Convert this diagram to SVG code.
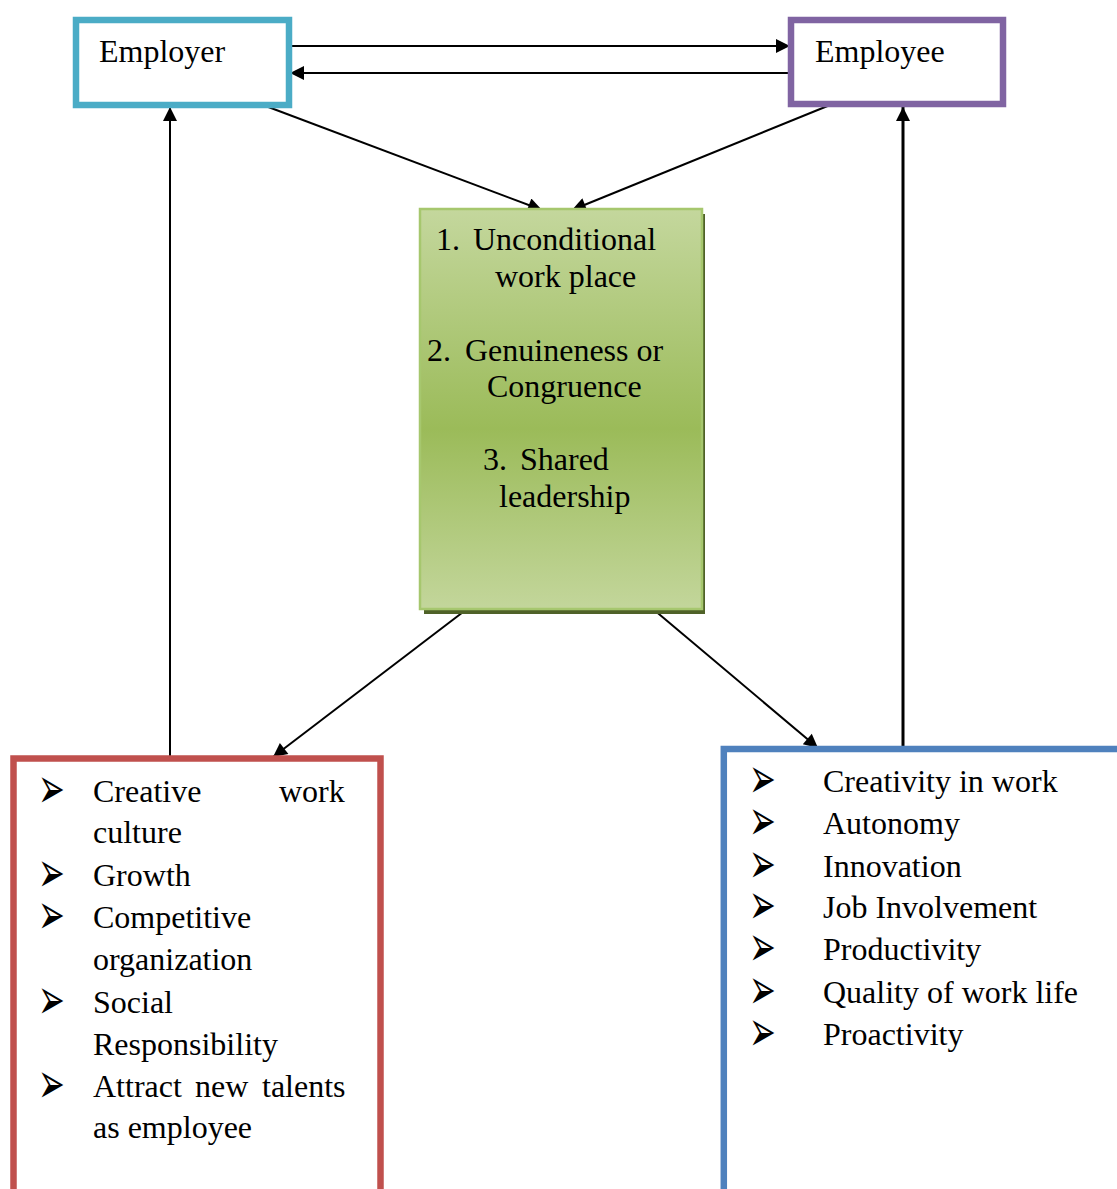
<svg xmlns="http://www.w3.org/2000/svg" width="1117" height="1189" viewBox="0 0 1117 1189">
  <style>
    .t { font-family: "Liberation Serif", "Times New Roman", serif; font-size: 32px; fill: #000; }
    .b { font-family: "DejaVu Sans", sans-serif; font-size: 32px; fill: #000; }
    .c { stroke: #000; stroke-width: 2; fill: none; marker-end: url(#ah); }
    .box { fill: #fff; stroke-width: 6.5; }
  </style>
  <defs>
    <marker id="ah" viewBox="0 0 10 10" refX="10" refY="5" markerUnits="userSpaceOnUse" markerWidth="17" markerHeight="14" orient="auto">
      <path d="M0,0 L10,5 L0,10 z" fill="#000"/>
    </marker>
    <linearGradient id="gg" x1="0" y1="0" x2="0" y2="1">
      <stop offset="0" stop-color="#C4D79D"/>
      <stop offset="0.55" stop-color="#9BBB59"/>
      <stop offset="1" stop-color="#C3D69B"/>
    </linearGradient>
    <text id="bul" class="b" transform="scale(1,1.8)">➢</text>
  </defs>
  <rect width="1117" height="1189" fill="#fff"/>

  <g id="connectors">
    <line class="c" x1="289" y1="46" x2="790" y2="46"/>
    <line class="c" x1="790" y1="73" x2="290" y2="73"/>
    <line class="c" x1="263" y1="105" x2="542" y2="210"/>
    <line class="c" x1="830" y1="105" x2="572" y2="210"/>
    <line class="c" x1="467" y1="609" x2="273" y2="757"/>
    <line class="c" x1="653" y1="609" x2="818" y2="748"/>
    <line class="c" x1="170" y1="757" x2="170" y2="107"/>
    <line class="c" x1="903" y1="748" x2="903" y2="107" style="stroke-width:3"/>
  </g>

  <g id="employer">
    <rect class="box" x="76" y="20" width="213" height="85" stroke="#4BACC6"/>
    <text class="t" x="99" y="62">Employer</text>
  </g>

  <g id="employee">
    <rect class="box" x="791" y="20" width="212" height="84" stroke="#8064A2"/>
    <text class="t" x="815" y="62">Employee</text>
  </g>

  <g id="center">
    <rect x="424" y="214" width="281" height="400" fill="#4F6228"/>
    <rect x="420" y="209" width="282" height="400" fill="url(#gg)" stroke="#A6C76E" stroke-width="2.5"/>
    <text class="t" x="436" y="250">1.</text>
    <text class="t" x="473" y="250">Unconditional</text>
    <text class="t" x="495" y="287">work place</text>
    <text class="t" x="427" y="361">2.</text>
    <text class="t" x="465" y="361">Genuineness or</text>
    <text class="t" x="487" y="397">Congruence</text>
    <text class="t" x="483" y="470">3.</text>
    <text class="t" x="520" y="470">Shared</text>
    <text class="t" x="499" y="507">leadership</text>
  </g>

  <g id="organization-outcomes">
    <rect class="box" x="13.5" y="758.5" width="367" height="520" stroke="#C0504D"/>
    <use href="#bul" x="38" y="808"/>
    <text class="t" x="93" y="802">Creative</text>
    <text class="t" x="279" y="802">work</text>
    <text class="t" x="93" y="843">culture</text>
    <use href="#bul" x="38" y="892"/>
    <text class="t" x="93" y="886">Growth</text>
    <use href="#bul" x="38" y="934"/>
    <text class="t" x="93" y="928">Competitive</text>
    <text class="t" x="93" y="970">organization</text>
    <use href="#bul" x="38" y="1019"/>
    <text class="t" x="93" y="1013">Social</text>
    <text class="t" x="93" y="1055">Responsibility</text>
    <use href="#bul" x="38" y="1103"/>
    <text class="t" x="93" y="1097">Attract</text>
    <text class="t" x="195" y="1097">new</text>
    <text class="t" x="262" y="1097">talents</text>
    <text class="t" x="93" y="1138">as employee</text>
  </g>

  <g id="employee-outcomes">
    <rect class="box" x="723.8" y="749" width="500" height="520" stroke="#4F81BD"/>
    <use href="#bul" x="749" y="798"/>
    <text class="t" x="823" y="792">Creativity in work</text>
    <use href="#bul" x="749" y="840"/>
    <text class="t" x="823" y="834">Autonomy</text>
    <use href="#bul" x="749" y="883"/>
    <text class="t" x="823" y="877">Innovation</text>
    <use href="#bul" x="749" y="924"/>
    <text class="t" x="823" y="918">Job Involvement</text>
    <use href="#bul" x="749" y="966"/>
    <text class="t" x="823" y="960">Productivity</text>
    <use href="#bul" x="749" y="1009"/>
    <text class="t" x="823" y="1003">Quality of work life</text>
    <use href="#bul" x="749" y="1051"/>
    <text class="t" x="823" y="1045">Proactivity</text>
  </g>
</svg>
